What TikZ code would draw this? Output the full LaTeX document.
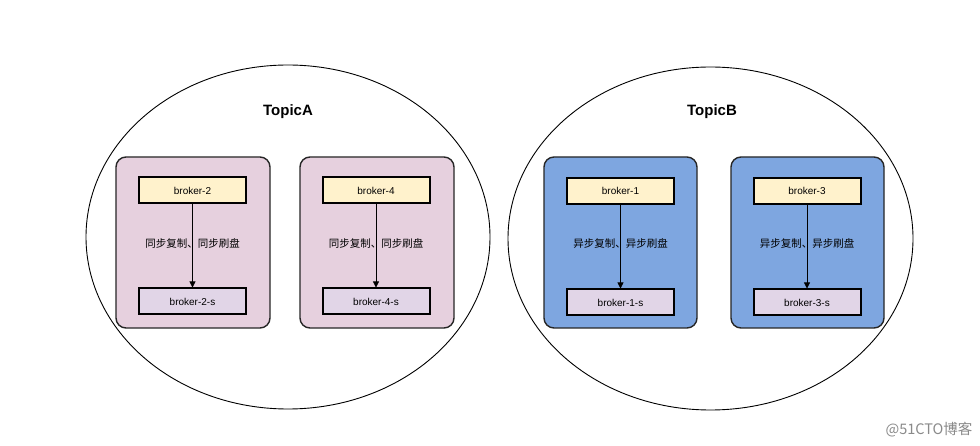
\documentclass[tikz,border=0pt]{standalone}
\usepackage{fontspec}
\setmainfont{Liberation Sans}
\newfontfamily\cjk{Noto Sans CJK SC}
\usetikzlibrary{arrows.meta,shapes.geometric}
\definecolor{grpA}{HTML}{E6D0DE}
\definecolor{grpB}{HTML}{7EA6E0}
\definecolor{topfill}{HTML}{FFF2CC}
\definecolor{botfill}{HTML}{E1D5E7}
\definecolor{wm}{HTML}{8A8A8A}
\tikzset{
  topic/.style={ellipse, draw=black, line width=0.9pt, fill=white, inner sep=0pt},
  group/.style={draw=black!85, line width=1.4pt, rounded corners=10pt, inner sep=0pt},
  brk/.style={draw=black, line width=2pt, minimum width=107pt, minimum height=26pt, inner sep=0pt, font=\fontsize{10}{12}\selectfont},
  lbl/.style={font=\cjk\fontsize{10.5}{12}\selectfont, inner sep=1pt, yshift=3pt},
  conn/.style={-{Triangle[length=6pt,width=6pt]}, line width=0.8pt, black},
  title/.style={font=\bfseries\fontsize{15}{18}\selectfont}
}
\begin{document}
\begin{tikzpicture}[x=1pt,y=-1pt]
\useasboundingbox (0,0) rectangle (980,446);
\fill[white] (0,0) rectangle (980,446);
% ellipses
\node[topic, minimum width=404pt, minimum height=344pt] (EA) at (288,237) {};
\node[topic, minimum width=405pt, minimum height=343pt] (EB) at (710.5,238.5) {};
\node[title] (TA) at (288,112) {TopicA};
\node[title] (TB) at (712,112) {TopicB};
% groups
\node[group, fill=grpA, minimum width=154pt, minimum height=171pt] (GA1) at (193,242.5) {};
\node[group, fill=grpA, minimum width=154pt, minimum height=171pt] (GA2) at (377,242.5) {};
\node[group, fill=grpB, minimum width=153pt, minimum height=171pt] (GB1) at (620.5,242.5) {};
\node[group, fill=grpB, minimum width=153pt, minimum height=171pt] (GB2) at (807.5,242.5) {};
% brokers
\node[brk, fill=topfill] (b2) at (192.5,190.5) {broker-2};
\node[brk, fill=botfill] (b2s) at (192.5,301.5) {broker-2-s};
\node[brk, fill=topfill] (b4) at (376,190.5) {broker-4};
\node[brk, fill=botfill] (b4s) at (376,301.5) {broker-4-s};
\node[brk, fill=topfill] (b1) at (620.5,191) {broker-1};
\node[brk, fill=botfill] (b1s) at (620.5,302.5) {broker-1-s};
\node[brk, fill=topfill] (b3) at (807,191) {broker-3};
\node[brk, fill=botfill] (b3s) at (807,302.5) {broker-3-s};
% connectors
\draw[conn] (b2) -- (b2s) node[lbl, midway] {同步复制、同步刷盘};
\draw[conn] (b4) -- (b4s) node[lbl, midway] {同步复制、同步刷盘};
\draw[conn] (b1) -- (b1s) node[lbl, midway] {异步复制、异步刷盘};
\draw[conn] (b3) -- (b3s) node[lbl, midway] {异步复制、异步刷盘};
% watermark
\node[font=\cjk\fontsize{14.5}{16}\selectfont, text=wm, anchor=east] (wmk) at (976,430) {@51CTO博客};
\end{tikzpicture}
\end{document}
